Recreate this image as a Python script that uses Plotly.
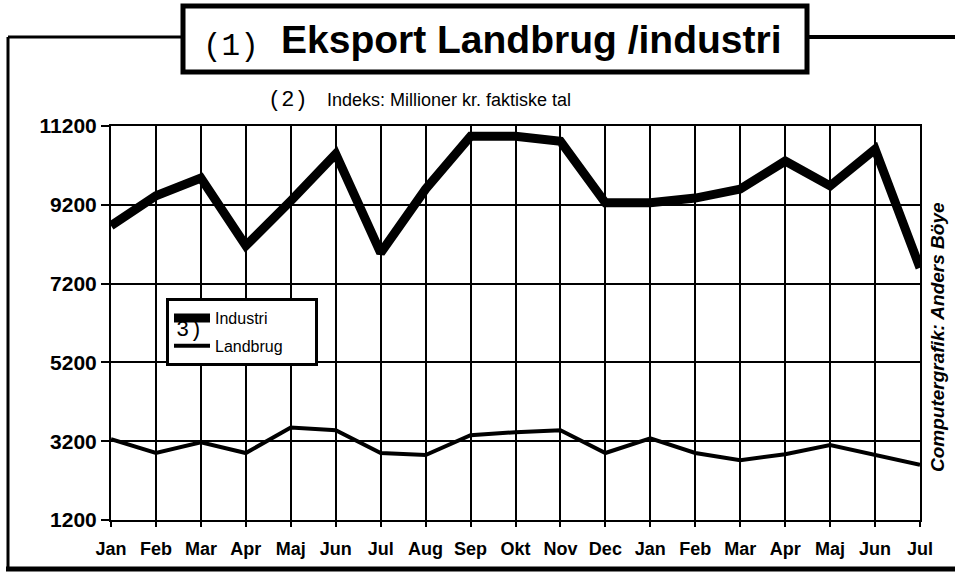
import plotly.graph_objects as go

# ---- data ----
months = ["Jan", "Feb", "Mar", "Apr", "Maj", "Jun", "Jul", "Aug", "Sep", "Okt",
          "Nov", "Dec", "Jan", "Feb", "Mar", "Apr", "Maj", "Jun", "Jul"]
industri = [8670, 9430, 9880, 8160, 9300, 10490, 7980, 9600, 10940, 10940,
            10810, 9250, 9250, 9370, 9600, 10310, 9680, 10610, 7600]
landbrug = [3250, 2900, 3170, 2900, 3550, 3480, 2900, 2850, 3350, 3430,
            3480, 2900, 3270, 2900, 2720, 2870, 3100, 2850, 2600]
y_ticks = [1200, 3200, 5200, 7200, 9200, 11200]

# ---- layout geometry ----
W, H = 955, 575
L, R, T, B = 111, 35, 126, 55
PW, PH = W - L - R, H - T - B


def px(x):
    return (x - L) / PW


def py(y):
    return (H - B - y) / PH


xs = list(range(len(months)))
PAD = "\u00a0" * 6

fig = go.Figure()
fig.add_trace(go.Scatter(x=xs, y=industri, mode="lines", name="Industri" + PAD,
                         legendgroup="a", line=dict(color="black", width=9),
                         cliponaxis=False))
fig.add_trace(go.Scatter(x=xs, y=landbrug, mode="lines", name="Landbrug" + PAD,
                         legendgroup="b", line=dict(color="black", width=4),
                         cliponaxis=False))

shapes = []
line = dict(color="black", width=3)
shapes.append(dict(type="line", xref="paper", yref="paper", x0=px(8), x1=px(8),
                   y0=py(37), y1=py(569), line=line))
shapes.append(dict(type="line", xref="paper", yref="paper", x0=px(6), x1=px(955),
                   y0=py(569), y1=py(569), line=dict(color="black", width=5)))
shapes.append(dict(type="line", xref="paper", yref="paper", x0=px(8), x1=px(183),
                   y0=py(37), y1=py(37), line=line))
shapes.append(dict(type="line", xref="paper", yref="paper", x0=px(807), x1=px(955),
                   y0=py(37), y1=py(37), line=dict(color="black", width=4)))
shapes.append(dict(type="rect", xref="paper", yref="paper", x0=px(183), x1=px(807),
                   y0=py(72), y1=py(6), line=dict(color="black", width=5),
                   fillcolor="white"))


def ann(text, x, y, size, family, **kw):
    d = dict(text=text, x=px(x), y=py(y), xref="paper", yref="paper",
             xanchor="center", yanchor="middle", showarrow=False,
             font=dict(family=family, size=size, color="black"))
    d.update(kw)
    return d


SANS = "Liberation Sans, Arial, sans-serif"
MONO = "Liberation Mono, Courier New, monospace"
annotations = [
    ann("(1)", 231, 46, 31, MONO),
    ann("<b>Eksport Landbrug /industri</b>", 531, 40, 39, SANS),
    ann("(2)", 288, 101, 22, MONO),
    ann("Indeks: Millioner kr. faktiske tal", 325, 100, 18,
        "Liberation Sans Narrow, Liberation Sans, Arial, sans-serif", xanchor="left"),
    ann("<b><i>Computergrafik: Anders Böye</i></b>", 937, 337, 19, SANS, textangle=-90),
    ann("3)", 189, 330, 22, MONO),
]

fig.update_layout(
    width=W, height=H,
    margin=dict(l=L, r=R, t=T, b=B),
    paper_bgcolor="white", plot_bgcolor="white",
    shapes=shapes, annotations=annotations,
    showlegend=True,
    legend=dict(x=px(166), y=py(298), xanchor="left", yanchor="top",
                bordercolor="black", borderwidth=3, bgcolor="white",
                font=dict(family=SANS, size=16, color="black"),
                itemwidth=36, tracegroupgap=4),
    xaxis=dict(range=[0, len(months) - 1], tickmode="array", tickvals=xs,
               ticktext=[f"<b>{m}</b>" for m in months],
               showgrid=True, gridcolor="black", gridwidth=2,
               showline=True, linecolor="black", linewidth=2, mirror=True,
               ticks="outside", ticklen=5, tickwidth=2, tickcolor="black",
               ticklabelstandoff=6,
               tickfont=dict(family=SANS, size=18, color="black"),
               zeroline=False, fixedrange=True),
    yaxis=dict(range=[1200, 11200], tickmode="array", tickvals=y_ticks,
               ticktext=[f"<b>{v}</b>" for v in y_ticks],
               showgrid=True, gridcolor="black", gridwidth=2,
               showline=True, linecolor="black", linewidth=2, mirror=True,
               ticks="outside", ticklen=8, tickwidth=2, tickcolor="black",
               tickfont=dict(family=SANS, size=21, color="black"),
               zeroline=False, fixedrange=True),
)

fig.write_html("out.html", config={"displayModeBar": False},
               post_script="document.body.style.margin='0';")
